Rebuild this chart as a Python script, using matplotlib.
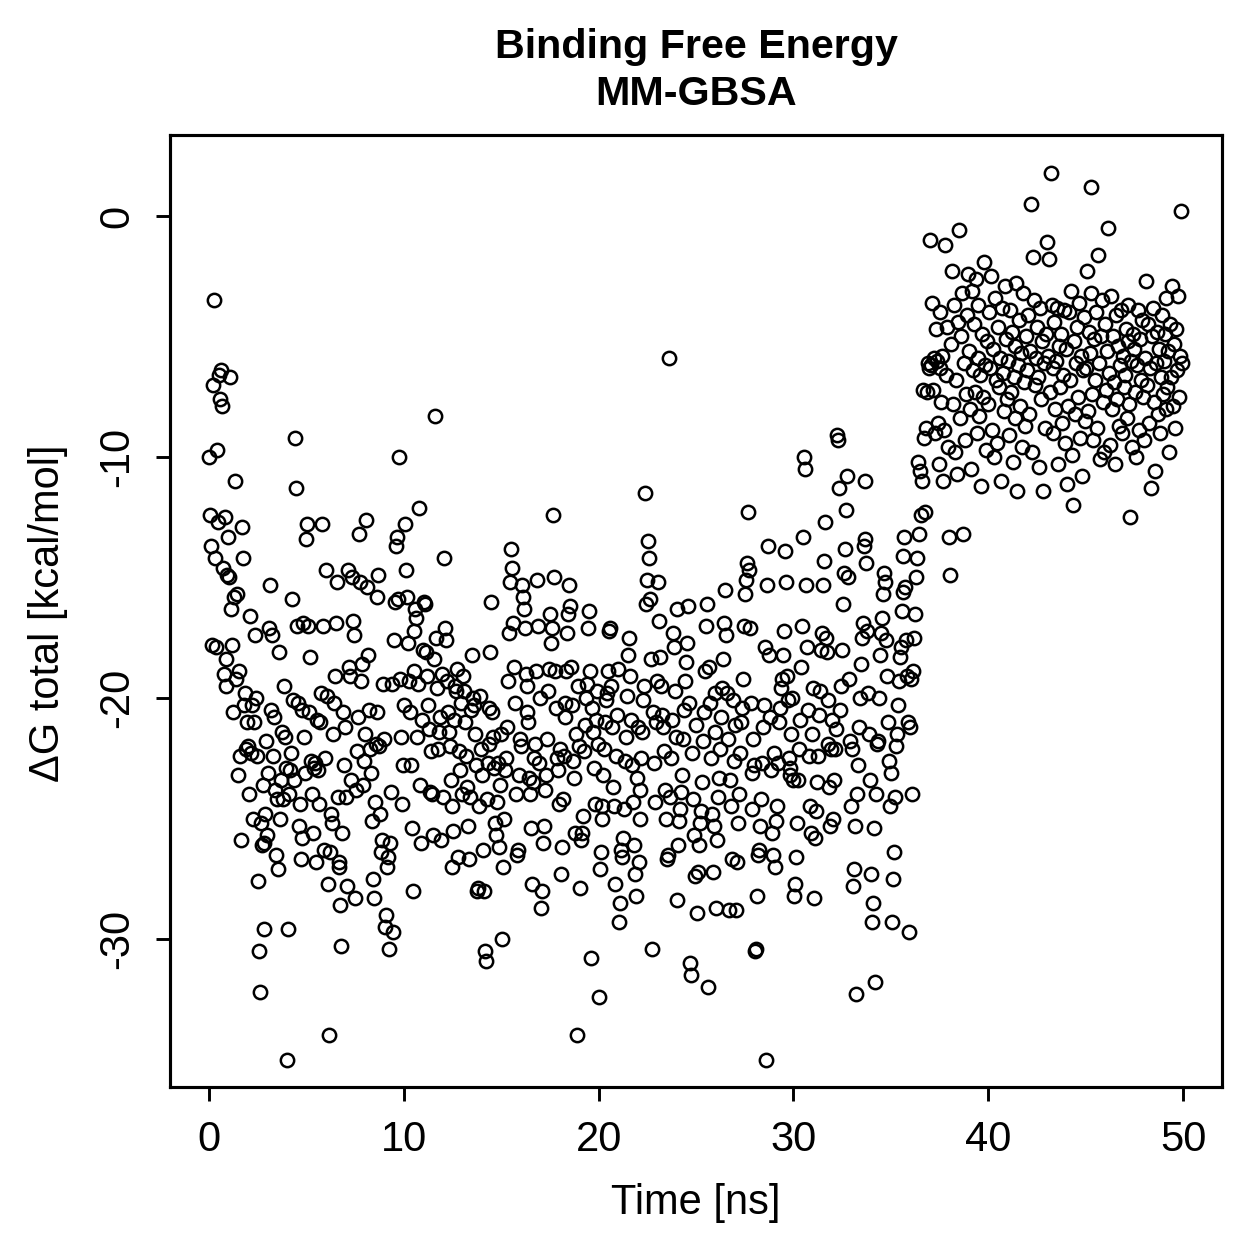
import numpy as np
import matplotlib
matplotlib.use("Agg")
import matplotlib.pyplot as plt

# MM-GBSA total binding free energy, one frame every 0.05 ns
dg_00_10 = [
    -10.0, -12.4, -13.7, -17.8, -7.0, -3.5, -14.2, -17.9, -9.7, -12.7, -6.6, -7.6, -6.4, -7.9, -14.6, -19.0, -12.5, -18.4, -19.5, -14.9,
    -13.3, -15.0, -6.7, -16.3, -17.8, -20.6, -15.8, -11.0, -19.2, -15.7, -23.2, -18.9, -22.4, -25.9, -12.9, -14.2, -20.3, -19.8, -22.1, -21.0,
    -22.0, -24.0, -16.6, -22.3, -20.3, -25.0, -21.0, -17.4, -20.0, -22.4, -27.6, -30.5, -32.2, -25.2, -26.1, -23.6, -29.6, -26.0, -24.8, -21.8,
    -25.7, -23.1, -17.1, -15.3, -20.5, -17.4, -22.4, -20.8, -23.8, -26.5, -24.2, -27.1, -18.1, -25.0, -23.4, -21.4, -24.2, -19.5, -21.6, -22.9,
    -35.0, -29.6, -24.0, -23.0, -22.3, -15.9, -20.1, -23.4, -9.2, -11.3, -17.0, -20.2, -25.3, -24.4, -26.7, -20.5, -25.8, -16.9, -21.6, -23.1,
    -13.4, -12.8, -17.0, -20.6, -18.3, -22.6, -24.0, -25.6, -22.9, -22.7, -26.8, -20.9, -23.0, -24.4, -21.0, -19.8, -12.8, -17.0, -26.3, -22.5,
    -14.7, -19.9, -27.7, -34.0, -26.4, -24.8, -25.2, -21.5, -20.2, -19.1, -16.9, -15.2, -24.1, -26.8, -27.0, -28.6, -30.3, -25.6, -20.6, -22.8,
    -21.2, -24.1, -27.8, -14.7, -18.7, -19.1, -23.4, -15.0, -16.8, -17.4, -28.3, -23.8, -22.2, -20.8, -13.2, -15.2, -19.3, -18.6, -23.6, -22.6,
    -21.5, -12.6, -15.4, -18.2, -20.5, -22.1, -23.1, -25.1, -27.5, -28.3, -24.3, -21.9, -20.6, -15.8, -14.9, -22.0, -24.8, -26.4, -25.9, -19.4,
    -21.7, -29.5, -29.0, -27.0, -26.6, -30.4, -26.0, -23.9, -19.4, -29.7, -17.6, -16.0, -13.7, -13.3, -15.9, -10.0, -19.2, -21.6, -24.4, -22.8,
]
dg_10_20 = [
    -20.3, -12.8, -14.7, -15.8, -17.7, -19.3, -20.6, -22.8, -25.4, -28.0, -18.9, -17.2, -16.3, -16.7, -21.6, -19.4, -12.1, -23.6, -26.0, -20.9,
    -18.0, -16.0, -16.1, -18.1, -19.1, -20.3, -21.3, -23.9, -22.2, -24.0, -25.7, -18.4, -8.3, -17.5, -19.6, -22.1, -21.4, -20.8, -25.9, -19.0,
    -24.1, -14.2, -17.1, -17.6, -19.3, -20.6, -21.4, -22.0, -23.4, -24.5, -27.0, -25.5, -20.9, -19.5, -19.7, -18.8, -26.6, -22.2, -23.0, -20.2,
    -24.0, -19.1, -19.7, -21.0, -22.4, -23.7, -25.3, -26.7, -24.1, -20.5, -18.2, -20.0, -20.3, -21.5, -22.8, -28.0, -27.9, -24.5, -19.9, -22.1,
    -23.2, -26.3, -28.0, -30.5, -30.9, -24.2, -22.7, -21.9, -20.4, -18.1, -16.0, -20.6, -21.6, -22.9, -25.2, -25.7, -24.3, -22.7, -26.2, -23.6,
    -21.5, -30.0, -27.0, -25.0, -23.0, -22.5, -21.2, -19.3, -17.3, -15.2, -13.8, -14.6, -16.9, -18.7, -20.2, -24.0, -26.5, -26.3, -23.2, -21.7,
    -22.0, -15.3, -15.8, -16.3, -17.1, -19.0, -19.5, -20.6, -21.0, -23.3, -24.0, -25.4, -27.7, -23.5, -22.5, -21.9, -18.9, -15.1, -17.0, -22.7,
    -20.0, -28.7, -28.0, -26.0, -25.3, -23.8, -23.2, -21.7, -19.7, -18.8, -16.5, -17.7, -17.1, -12.4, -15.0, -18.9, -20.4, -22.5, -23.0, -24.4,
    -22.1, -27.3, -26.2, -24.2, -22.4, -20.8, -20.2, -18.9, -17.3, -16.5, -15.3, -16.2, -18.7, -20.3, -22.6, -23.3, -25.6, -21.5, -34.0, -19.5,
    -22.0, -27.9, -25.9, -25.6, -24.9, -22.2, -21.1, -20.0, -19.4, -17.1, -16.4, -18.9, -30.8, -20.4, -21.4, -22.9, -24.4, -20.9, -19.7, -21.9,
]
dg_20_30 = [
    -32.4, -27.1, -26.4, -25.0, -24.5, -23.2, -22.1, -21.0, -20.1, -19.8, -18.9, -17.2, -17.1, -19.5, -21.2, -23.7, -24.5, -27.7, -22.4, -20.7,
    -18.8, -29.3, -28.5, -26.3, -26.6, -25.8, -24.6, -22.6, -21.6, -19.9, -18.2, -17.5, -19.1, -20.9, -22.8, -24.3, -26.1, -27.3, -28.2, -23.3,
    -21.2, -26.8, -25.0, -23.8, -22.5, -21.4, -20.1, -19.5, -11.5, -16.1, -15.1, -13.5, -14.2, -15.9, -18.4, -30.4, -20.6, -22.7, -24.3, -21.0,
    -19.3, -15.2, -16.8, -18.3, -19.5, -20.7, -21.2, -22.2, -23.8, -25.0, -26.7, -26.5, -5.9, -24.1, -22.5, -20.9, -17.3, -17.9, -19.7, -21.6,
    -16.3, -28.4, -26.1, -25.1, -24.6, -23.9, -23.2, -21.7, -20.5, -19.3, -18.5, -17.7, -16.2, -20.2, -31.0, -31.5, -22.3, -24.2, -25.7, -27.4,
    -21.1, -28.9, -27.2, -26.1, -25.2, -24.7, -23.5, -21.8, -20.6, -18.9, -17.0, -16.1, -32.0, -18.7, -20.2, -22.5, -24.8, -27.2, -25.3, -21.4,
    -19.8, -28.7, -25.9, -24.1, -23.3, -22.1, -20.8, -19.6, -18.4, -16.9, -15.5, -17.4, -19.8, -21.7, -28.8, -23.4, -24.5, -26.7, -20.1, -22.6,
    -21.1, -28.8, -26.8, -25.2, -24.0, -22.3, -21.0, -20.4, -19.2, -17.0, -15.7, -15.1, -14.4, -12.3, -14.7, -17.1, -20.2, -23.1, -24.6, -21.7,
    -22.8, -30.5, -30.4, -28.2, -26.5, -26.3, -25.3, -24.2, -22.7, -21.2, -20.3, -17.9, -35.0, -15.3, -13.7, -18.2, -20.8, -23.0, -25.6, -26.5,
    -22.3, -27.0, -25.1, -24.5, -22.7, -21.0, -20.4, -19.6, -19.2, -18.2, -17.2, -13.9, -15.2, -19.1, -20.1, -22.5, -23.2, -22.9, -21.5, -20.0,
]
dg_30_40 = [
    -23.4, -28.2, -27.7, -26.6, -25.2, -23.4, -22.1, -20.9, -18.7, -17.0, -13.3, -10.0, -10.5, -15.3, -17.9, -20.5, -22.4, -24.5, -25.6, -21.5,
    -19.6, -28.3, -25.8, -24.7, -23.5, -22.4, -20.7, -19.7, -18.0, -17.3, -15.3, -14.3, -12.7, -17.5, -18.1, -20.1, -21.9, -23.7, -25.3, -22.1,
    -20.9, -25.0, -23.4, -22.1, -21.3, -9.1, -9.3, -11.3, -20.5, -19.5, -18.0, -16.1, -14.8, -13.8, -12.2, -10.8, -15.0, -19.2, -21.8, -24.5,
    -22.1, -27.8, -27.1, -25.3, -32.3, -24.0, -22.8, -21.2, -20.0, -18.6, -17.5, -16.9, -13.7, -13.4, -11.0, -14.4, -17.2, -19.8, -21.5, -23.4,
    -27.3, -29.3, -28.5, -25.4, -31.8, -24.0, -21.9, -21.8, -20.0, -18.2, -17.3, -16.7, -15.7, -14.8, -15.2, -17.6, -19.1, -21.0, -22.6, -24.5,
    -23.1, -29.3, -27.5, -26.4, -24.1, -22.0, -21.5, -20.3, -19.3, -18.3, -17.9, -16.4, -15.6, -14.1, -13.3, -15.4, -17.6, -19.1, -21.0, -29.7,
    -21.2, -19.2, -24.0, -18.9, -17.5, -16.5, -15.0, -14.2, -10.2, -13.2, -10.6, -12.4, -11.0, -7.2, -9.2, -12.3, -8.8, -7.3, -6.1, -6.3,
    -1.0, -6.2, -3.6, -7.2, -5.9, -9.0, -4.7, -6.0, -8.6, -10.3, -6.3, -4.0, -7.7, -5.8, -11.0, -8.9, -1.2, -6.6, -4.6, -9.6,
    -13.3, -14.9, -5.3, -2.3, -7.8, -3.7, -9.8, -6.8, -10.7, -4.4, -0.6, -8.4, -5.0, -3.2, -13.2, -6.1, -9.3, -7.4, -4.1, -2.4,
    -5.6, -8.0, -10.5, -3.1, -6.4, -4.5, -7.3, -2.6, -9.0, -5.9, -3.7, -8.3, -6.6, -11.2, -4.9, -7.5, -1.9, -6.2, -9.7, -5.2,
]
dg_40_50 = [
    -7.8, -4.0, -6.3, -2.5, -8.9, -5.5, -10.0, -3.4, -6.8, -9.4, -4.6, -7.1, -5.9, -11.0, -3.8, -6.5, -8.1, -2.9, -5.1, -7.6,
    -6.0, -9.1, -3.9, -7.3, -4.8, -10.2, -6.7, -5.4, -8.4, -2.8, -11.4, -6.2, -4.3, -7.9, -5.7, -9.6, -3.2, -6.9, -8.7, -5.0,
    -6.4, -4.1, -8.2, -5.6, 0.5, -9.8, -1.7, -3.5, -7.0, -5.9, -4.6, -6.7, -10.4, -3.8, -7.6, -5.2, -11.4, -6.1, -8.8, -4.9,
    -1.1, -5.8, -1.8, -7.3, 1.8, -3.7, -6.3, -9.0, -4.4, -8.0, -6.0, -3.8, -10.3, -5.4, -7.1, -4.9, -8.6, -6.6, -3.9, -9.4,
    -5.5, -11.1, -7.9, -4.0, -6.8, -3.1, -9.9, -12.0, -5.2, -8.2, -6.1, -4.6, -7.5, -3.6, -9.2, -5.8, -10.8, -6.4, -4.2, -8.5,
    -6.3, -2.3, -8.1, -4.8, -5.7, -3.2, 1.2, -7.4, -9.3, -5.1, -6.8, -4.0, -8.8, -1.6, -6.1, -10.1, -5.0, -3.5, -7.7, -9.8,
    -4.5, -7.2, -5.6, -0.5, -6.5, -9.5, -3.3, -8.0, -5.0, -6.9, -10.3, -4.1, -7.6, -5.4, -8.7, -6.2, -3.9, -9.0, -5.8, -7.1,
    -6.6, -4.7, -8.4, -5.2, -3.7, -7.8, -12.5, -6.0, -9.6, -4.9, -5.5, -7.3, -10.0, -6.2, -3.9, -8.9, -5.1, -6.8, -4.3, -7.5,
    -9.3, -5.9, -2.7, -7.0, -4.5, -8.6, -6.3, -11.3, -5.0, -3.8, -7.7, -10.6, -6.1, -4.8, -8.2, -5.5, -9.0, -6.7, -4.1, -7.4,
    -6.0, -4.9, -8.0, -3.4, -7.1, -5.6, -9.8, -4.5, -6.7, -2.9, -7.9, -5.3, -8.8, -4.7, -6.4, -3.3, -7.5, -5.8, 0.2, -6.1,
]

frame_step_ns = 0.05
x_ticks = [0, 10, 20, 30, 40, 50]
y_ticks = [0, -10, -20, -30]
y_tick_labels = ["0", "-10", "-20", "-30"]

dg_total = np.array(dg_00_10 + dg_10_20 + dg_20_30 + dg_30_40 + dg_40_50)
time_ns = np.arange(len(dg_total)) * frame_step_ns

plt.rcParams["font.family"] = ["Liberation Sans", "DejaVu Sans"]
plt.rcParams["font.size"] = 10

fig = plt.figure(figsize=(1259 / 300, 1259 / 300), dpi=300)
ax = fig.add_axes([170 / 1259, 1 - 1087 / 1259, 1052 / 1259, 952 / 1259])

ax.plot(time_ns, dg_total, "o", mfc="none", mec="black", ms=3.2, mew=0.6)

ax.set_xlim(-2, 52)
ax.set_ylim(-36.14, 3.36)
ax.set_xticks(x_ticks)
ax.set_yticks(y_ticks)
ax.set_yticklabels(y_tick_labels, rotation=90, va="center")
ax.tick_params(length=3.4, width=0.7, labelsize=10)
ax.tick_params(axis="x", pad=4.5)
ax.tick_params(axis="y", pad=4.5)
for sp in ax.spines.values():
    sp.set_linewidth(0.75)

fig.text(0.5529, 1 - 47 / 1259, "Binding Free Energy", ha="center", va="center",
         fontsize=9.9, fontweight="bold")
fig.text(0.5529, 1 - 94 / 1259, "MM-GBSA", ha="center", va="center",
         fontsize=9.9, fontweight="bold")
fig.text(0.5529, 1 - 1203 / 1259, "Time [ns]", ha="center", va="center")
fig.text(48 / 1259, 1 - 613 / 1259, "ΔG total [kcal/mol]", ha="center", va="center",
         rotation=90)

fig.savefig("out.png", dpi=300)
